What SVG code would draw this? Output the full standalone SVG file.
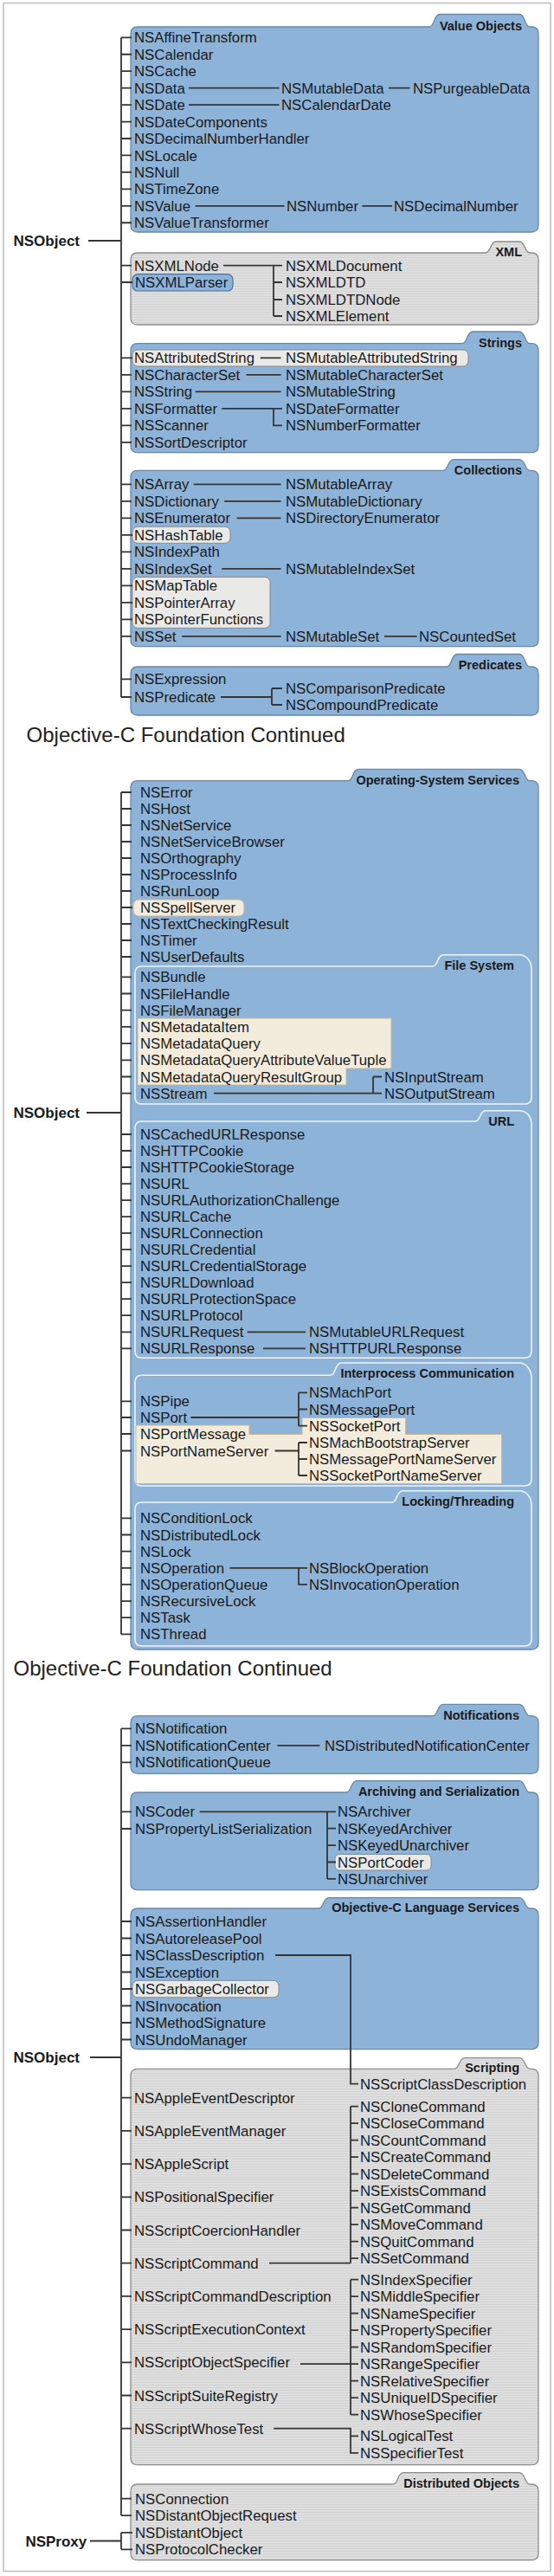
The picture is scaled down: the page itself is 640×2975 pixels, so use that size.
<svg xmlns="http://www.w3.org/2000/svg" width="640" height="2975" viewBox="0 0 640 2975">
<defs>
<pattern id="gs" width="6" height="3" patternUnits="userSpaceOnUse"><rect width="6" height="3" fill="#dedede"/><rect width="6" height="1" fill="#d3d3d3"/></pattern>
<style>
.n{font-family:"Liberation Sans",Arial,Helvetica,sans-serif;font-size:16.8px;fill:#1a1a1a}
.nb{font-family:"Liberation Sans",Arial,Helvetica,sans-serif;font-size:17px;font-weight:bold;fill:#1a1a1a}
.lb{font-family:"Liberation Sans",Arial,Helvetica,sans-serif;font-size:14.5px;font-weight:bold;fill:#1a1a1a;text-anchor:end}
.tt{font-family:"Liberation Sans",Arial,Helvetica,sans-serif;font-size:24px;fill:#222}
.ln{stroke:#353535;stroke-width:1.8;fill:none}
.blue{fill:#8db3d8;stroke:#6a87a8;stroke-width:1.3}
.gray{fill:url(#gs);stroke:#8c8c8c;stroke-width:1.3}
.sub{fill:#8db3d8;stroke:#eef4fa;stroke-width:1.6}
.hb{fill:#f3ecdc;stroke:#c4b898;stroke-width:1;stroke-linejoin:round}
.hg{fill:#e9e9e7;stroke:#8a8a8a;stroke-width:1}
.hbl{fill:#8db3d8;stroke:#4f7299;stroke-width:1.2}
</style>
</defs>
<rect x="0" y="0" width="640" height="2975" fill="#fff"/>
<rect x="4" y="3.5" width="632" height="2966" fill="#fff" stroke="#bdbdbd" stroke-width="1.5"/>

<text class="tt" x="30.6" y="856.5">Objective-C Foundation Continued</text>
<text class="tt" x="15.5" y="1935">Objective-C Foundation Continued</text>

<g id="root-nsobject-1"><text class="nb" x="15.5" y="284">NSObject</text></g>
<g id="root-nsobject-2"><text class="nb" x="15.5" y="1291">NSObject</text></g>
<g id="root-nsobject-3"><text class="nb" x="15.5" y="2382">NSObject</text></g>
<g id="root-nsproxy"><text class="nb" x="29.4" y="2940.5">NSProxy</text></g>

<g id="value-objects">
<path class="blue" d="M151,39 Q151,31 159,31 H496 C502,31 501,16.5 508,16.5 H600 C607,16.5 606,31 612,31 H614 Q622,31 622,39 V260 Q622,268 614,268 H159 Q151,268 151,260 Z"/>
<text class="lb" x="603" y="35">Value Objects</text>
<text class="n" x="155" y="49.3">NSAffineTransform</text>
<text class="n" x="155" y="68.8">NSCalendar</text>
<text class="n" x="155" y="88.2">NSCache</text>
<text class="n" x="155" y="107.7">NSData</text>
<text class="n" x="155" y="127.1">NSDate</text>
<text class="n" x="155" y="146.6">NSDateComponents</text>
<text class="n" x="155" y="166">NSDecimalNumberHandler</text>
<text class="n" x="155" y="185.5">NSLocale</text>
<text class="n" x="155" y="204.9">NSNull</text>
<text class="n" x="155" y="224.4">NSTimeZone</text>
<text class="n" x="155" y="243.8">NSValue</text>
<text class="n" x="155" y="263.3">NSValueTransformer</text>
<text class="n" x="325" y="107.7">NSMutableData</text>
<text class="n" x="477" y="107.7">NSPurgeableData</text>
<text class="n" x="325" y="127.1">NSCalendarDate</text>
<text class="n" x="331" y="243.8">NSNumber</text>
<text class="n" x="455" y="243.8">NSDecimalNumber</text>
</g>

<g id="xml">
<path class="gray" d="M151,300 Q151,292 159,292 H561 C567,292 566,279 573,279 H600 C607,279 606,292 612,292 H614 Q622,292 622,300 V367 Q622,375 614,375 H159 Q151,375 151,367 Z"/>
<text class="lb" x="603" y="296">XML</text>
<rect class="hbl" x="153" y="316.7" width="116" height="19.3" rx="6"/>
<text class="n" x="155" y="312.7">NSXMLNode</text>
<text class="n" x="156" y="332">NSXMLParser</text>
<text class="n" x="330" y="312.7">NSXMLDocument</text>
<text class="n" x="330" y="332">NSXMLDTD</text>
<text class="n" x="330" y="352">NSXMLDTDNode</text>
<text class="n" x="330" y="371">NSXMLElement</text>
</g>

<g id="strings">
<path class="blue" d="M151,404.7 Q151,396.7 159,396.7 H534 C540,396.7 539,383 546,383 H600 C607,383 606,396.7 612,396.7 H614 Q622,396.7 622,404.7 V514.7 Q622,522.7 614,522.7 H159 Q151,522.7 151,514.7 Z"/>
<text class="lb" x="603" y="400.5">Strings</text>
<rect class="hg" x="153" y="404" width="388" height="19" rx="6"/>
<text class="n" x="155" y="419.3">NSAttributedString</text>
<text class="n" x="155" y="438.8">NSCharacterSet</text>
<text class="n" x="155" y="458.3">NSString</text>
<text class="n" x="155" y="477.8">NSFormatter</text>
<text class="n" x="155" y="497.3">NSScanner</text>
<text class="n" x="155" y="516.8">NSSortDescriptor</text>
<text class="n" x="330" y="419.3">NSMutableAttributedString</text>
<text class="n" x="330" y="438.8">NSMutableCharacterSet</text>
<text class="n" x="330" y="458.3">NSMutableString</text>
<text class="n" x="330" y="477.8">NSDateFormatter</text>
<text class="n" x="330" y="497.3">NSNumberFormatter</text>
</g>

<g id="collections">
<path class="blue" d="M151,551.3 Q151,543.3 159,543.3 H512 C518,543.3 517,530.7 524,530.7 H600 C607,530.7 606,543.3 612,543.3 H614 Q622,543.3 622,551.3 V738.7 Q622,746.7 614,746.7 H159 Q151,746.7 151,738.7 Z"/>
<text class="lb" x="603" y="547.5">Collections</text>
<rect class="hg" x="153" y="608.3" width="113" height="19" rx="6"/>
<rect class="hg" x="153" y="666.5" width="159" height="58.8" rx="6"/>
<text class="n" x="155" y="565.3">NSArray</text>
<text class="n" x="155" y="584.8">NSDictionary</text>
<text class="n" x="155" y="604.3">NSEnumerator</text>
<text class="n" x="155" y="623.8">NSHashTable</text>
<text class="n" x="155" y="643.3">NSIndexPath</text>
<text class="n" x="155" y="662.8">NSIndexSet</text>
<text class="n" x="155" y="682.3">NSMapTable</text>
<text class="n" x="155" y="701.8">NSPointerArray</text>
<text class="n" x="155" y="721.3">NSPointerFunctions</text>
<text class="n" x="155" y="740.8">NSSet</text>
<text class="n" x="330" y="565.3">NSMutableArray</text>
<text class="n" x="330" y="584.8">NSMutableDictionary</text>
<text class="n" x="330" y="604.3">NSDirectoryEnumerator</text>
<text class="n" x="330" y="662.8">NSMutableIndexSet</text>
<text class="n" x="330" y="740.8">NSMutableSet</text>
<text class="n" x="484" y="740.8">NSCountedSet</text>
</g>

<g id="predicates">
<path class="blue" d="M151,778 Q151,770 159,770 H516 C522,770 521,755.5 528,755.5 H600 C607,755.5 606,770 612,770 H614 Q622,770 622,778 V818 Q622,826 614,826 H159 Q151,826 151,818 Z"/>
<text class="lb" x="603" y="773">Predicates</text>
<text class="n" x="155" y="790.3">NSExpression</text>
<text class="n" x="155" y="811">NSPredicate</text>
<text class="n" x="330" y="801">NSComparisonPredicate</text>
<text class="n" x="330" y="820">NSCompoundPredicate</text>
</g>

<g id="os-services">
<path class="blue" d="M151,909.7 Q151,901.7 159,901.7 H402 C408,901.7 407,888.3 414,888.3 H600 C607,888.3 606,901.7 612,901.7 H614 Q622,901.7 622,909.7 V1897 Q622,1905 614,1905 H159 Q151,1905 151,1897 Z"/>
<text class="lb" x="600" y="905.5">Operating-System Services</text>
<rect class="hb" x="154" y="1039" width="128" height="19" rx="6"/>
<text class="n" x="162" y="921">NSError</text>
<text class="n" x="162" y="940">NSHost</text>
<text class="n" x="162" y="959">NSNetService</text>
<text class="n" x="162" y="978">NSNetServiceBrowser</text>
<text class="n" x="162" y="997">NSOrthography</text>
<text class="n" x="162" y="1016">NSProcessInfo</text>
<text class="n" x="162" y="1035">NSRunLoop</text>
<text class="n" x="162" y="1054">NSSpellServer</text>
<text class="n" x="162" y="1073">NSTextCheckingResult</text>
<text class="n" x="162" y="1092">NSTimer</text>
<text class="n" x="162" y="1111">NSUserDefaults</text>
</g>

<g id="file-system">
<path class="sub" d="M156,1124 Q156,1116 164,1116 H500 C506,1116 505,1102.7 512,1102.7 H600 C608,1102.7 614,1110 614,1120 V1267 Q614,1275 606,1275 H164 Q156,1275 156,1267 Z"/>
<text class="lb" x="594" y="1119.5">File System</text>
<path class="hb" d="M159,1176 H452 V1234 H400 V1253 H159 Z"/>
<text class="n" x="162" y="1134.3">NSBundle</text>
<text class="n" x="162" y="1153.5">NSFileHandle</text>
<text class="n" x="162" y="1172.7">NSFileManager</text>
<text class="n" x="162" y="1191.9">NSMetadataItem</text>
<text class="n" x="162" y="1211.1">NSMetadataQuery</text>
<text class="n" x="162" y="1230.3">NSMetadataQueryAttributeValueTuple</text>
<text class="n" x="162" y="1249.5">NSMetadataQueryResultGroup</text>
<text class="n" x="162" y="1268.7">NSStream</text>
<text class="n" x="444" y="1249.5">NSInputStream</text>
<text class="n" x="444" y="1268.7">NSOutputStream</text>
</g>

<g id="url">
<path class="sub" d="M156,1303 Q156,1295 164,1295 H549 C555,1295 554,1282.7 561,1282.7 H600 C608,1282.7 614,1289 614,1299 V1560.3 Q614,1568.3 606,1568.3 H164 Q156,1568.3 156,1560.3 Z"/>
<text class="lb" x="594" y="1299.5">URL</text>
<text class="n" x="162" y="1316">NSCachedURLResponse</text>
<text class="n" x="162" y="1335">NSHTTPCookie</text>
<text class="n" x="162" y="1354">NSHTTPCookieStorage</text>
<text class="n" x="162" y="1373.1">NSURL</text>
<text class="n" x="162" y="1392.1">NSURLAuthorizationChallenge</text>
<text class="n" x="162" y="1411.1">NSURLCache</text>
<text class="n" x="162" y="1430.1">NSURLConnection</text>
<text class="n" x="162" y="1449.1">NSURLCredential</text>
<text class="n" x="162" y="1468.2">NSURLCredentialStorage</text>
<text class="n" x="162" y="1487.2">NSURLDownload</text>
<text class="n" x="162" y="1506.2">NSURLProtectionSpace</text>
<text class="n" x="162" y="1525.2">NSURLProtocol</text>
<text class="n" x="162" y="1544.3">NSURLRequest</text>
<text class="n" x="162" y="1563.3">NSURLResponse</text>
<text class="n" x="357" y="1544.3">NSMutableURLRequest</text>
<text class="n" x="357" y="1563.3">NSHTTPURLResponse</text>
</g>

<g id="interprocess">
<path class="sub" d="M156,1596.3 Q156,1588.3 164,1588.3 H382 C388,1588.3 387,1574 394,1574 H600 C608,1574 614,1582 614,1592 V1708 Q614,1716 606,1716 H164 Q156,1716 156,1708 Z"/>
<text class="lb" x="594" y="1591">Interprocess Communication</text>
<path class="hb" d="M157,1646 H288 V1656.5 H349 V1637.5 H468.6 V1656.5 H579.6 V1713.5 H157 Z"/>
<text class="n" x="162" y="1624.3">NSPipe</text>
<text class="n" x="162" y="1643">NSPort</text>
<text class="n" x="162" y="1662">NSPortMessage</text>
<text class="n" x="162" y="1681.5">NSPortNameServer</text>
<text class="n" x="357" y="1614.3">NSMachPort</text>
<text class="n" x="357" y="1633.5">NSMessagePort</text>
<text class="n" x="357" y="1652.7">NSSocketPort</text>
<text class="n" x="357" y="1672">NSMachBootstrapServer</text>
<text class="n" x="357" y="1691">NSMessagePortNameServer</text>
<text class="n" x="357" y="1710">NSSocketPortNameServer</text>
</g>

<g id="locking-threading">
<path class="sub" d="M156,1743 Q156,1735 164,1735 H453 C459,1735 458,1721.7 465,1721.7 H600 C608,1721.7 614,1729 614,1739 V1893 Q614,1901 606,1901 H164 Q156,1901 156,1893 Z"/>
<text class="lb" x="594" y="1738.5">Locking/Threading</text>
<text class="n" x="162" y="1759.3">NSConditionLock</text>
<text class="n" x="162" y="1778.5">NSDistributedLock</text>
<text class="n" x="162" y="1797.6">NSLock</text>
<text class="n" x="162" y="1816.8">NSOperation</text>
<text class="n" x="162" y="1835.9">NSOperationQueue</text>
<text class="n" x="162" y="1855.1">NSRecursiveLock</text>
<text class="n" x="162" y="1874.2">NSTask</text>
<text class="n" x="162" y="1893.4">NSThread</text>
<text class="n" x="357" y="1816.8">NSBlockOperation</text>
<text class="n" x="357" y="1835.9">NSInvocationOperation</text>
</g>

<g id="notifications">
<path class="blue" d="M151,1989.7 Q151,1981.7 159,1981.7 H500 C506,1981.7 505,1968.3 512,1968.3 H600 C607,1968.3 606,1981.7 612,1981.7 H614 Q622,1981.7 622,1989.7 V2040.3 Q622,2048.3 614,2048.3 H159 Q151,2048.3 151,2040.3 Z"/>
<text class="lb" x="600" y="1985.5">Notifications</text>
<text class="n" x="156" y="2002.3">NSNotification</text>
<text class="n" x="156" y="2021.8">NSNotificationCenter</text>
<text class="n" x="156" y="2041.3">NSNotificationQueue</text>
<text class="n" x="375" y="2021.8">NSDistributedNotificationCenter</text>
</g>

<g id="archiving">
<path class="blue" d="M151,2078 Q151,2070 159,2070 H400 C406,2070 405,2056.7 412,2056.7 H600 C607,2056.7 606,2070 612,2070 H614 Q622,2070 622,2078 V2174.7 Q622,2182.7 614,2182.7 H159 Q151,2182.7 151,2174.7 Z"/>
<text class="lb" x="600" y="2074">Archiving and Serialization</text>
<rect class="hg" x="387" y="2141.5" width="111" height="18.5" rx="5"/>
<text class="n" x="156" y="2098.3">NSCoder</text>
<text class="n" x="156" y="2118">NSPropertyListSerialization</text>
<text class="n" x="390" y="2098.3">NSArchiver</text>
<text class="n" x="390" y="2117.7">NSKeyedArchiver</text>
<text class="n" x="390" y="2137.1">NSKeyedUnarchiver</text>
<text class="n" x="390" y="2156.5">NSPortCoder</text>
<text class="n" x="390" y="2175.9">NSUnarchiver</text>
</g>

<g id="objc-language-services">
<path class="blue" d="M151,2212 Q151,2204 159,2204 H368 C374,2204 373,2191.7 380,2191.7 H600 C607,2191.7 606,2204 612,2204 H614 Q622,2204 622,2212 V2358.7 Q622,2366.7 614,2366.7 H159 Q151,2366.7 151,2358.7 Z"/>
<text class="lb" x="600" y="2208">Objective-C Language Services</text>
<rect class="hg" x="153" y="2287.3" width="169" height="19.5" rx="6"/>
<text class="n" x="156" y="2225">NSAssertionHandler</text>
<text class="n" x="156" y="2244.5">NSAutoreleasePool</text>
<text class="n" x="156" y="2264">NSClassDescription</text>
<text class="n" x="156" y="2283.5">NSException</text>
<text class="n" x="156" y="2303">NSGarbageCollector</text>
<text class="n" x="156" y="2322.5">NSInvocation</text>
<text class="n" x="156" y="2342">NSMethodSignature</text>
<text class="n" x="156" y="2361.5">NSUndoManager</text>
</g>

<g id="scripting">
<path class="gray" d="M151,2397.3 Q151,2389.3 159,2389.3 H525 C531,2389.3 530,2376.7 537,2376.7 H600 C607,2376.7 606,2389.3 612,2389.3 H614 Q622,2389.3 622,2397.3 V2838.7 Q622,2846.7 614,2846.7 H159 Q151,2846.7 151,2838.7 Z"/>
<text class="lb" x="600" y="2393">Scripting</text>
<text class="n" x="155" y="2428.7">NSAppleEventDescriptor</text>
<text class="n" x="155" y="2466.9">NSAppleEventManager</text>
<text class="n" x="155" y="2505.1">NSAppleScript</text>
<text class="n" x="155" y="2543.3">NSPositionalSpecifier</text>
<text class="n" x="155" y="2581.5">NSScriptCoercionHandler</text>
<text class="n" x="155" y="2619.7">NSScriptCommand</text>
<text class="n" x="155" y="2657.9">NSScriptCommandDescription</text>
<text class="n" x="155" y="2696.1">NSScriptExecutionContext</text>
<text class="n" x="155" y="2734.3">NSScriptObjectSpecifier</text>
<text class="n" x="155" y="2772.5">NSScriptSuiteRegistry</text>
<text class="n" x="155" y="2810.7">NSScriptWhoseTest</text>
<text class="n" x="416" y="2412.7">NSScriptClassDescription</text>
<text class="n" x="416" y="2438.7">NSCloneCommand</text>
<text class="n" x="416" y="2458.2">NSCloseCommand</text>
<text class="n" x="416" y="2477.7">NSCountCommand</text>
<text class="n" x="416" y="2497.2">NSCreateCommand</text>
<text class="n" x="416" y="2516.7">NSDeleteCommand</text>
<text class="n" x="416" y="2536.2">NSExistsCommand</text>
<text class="n" x="416" y="2555.7">NSGetCommand</text>
<text class="n" x="416" y="2575.2">NSMoveCommand</text>
<text class="n" x="416" y="2594.7">NSQuitCommand</text>
<text class="n" x="416" y="2614.2">NSSetCommand</text>
<text class="n" x="416" y="2638.7">NSIndexSpecifier</text>
<text class="n" x="416" y="2658.2">NSMiddleSpecifier</text>
<text class="n" x="416" y="2677.7">NSNameSpecifier</text>
<text class="n" x="416" y="2697.2">NSPropertySpecifier</text>
<text class="n" x="416" y="2716.7">NSRandomSpecifier</text>
<text class="n" x="416" y="2736.2">NSRangeSpecifier</text>
<text class="n" x="416" y="2755.7">NSRelativeSpecifier</text>
<text class="n" x="416" y="2775.2">NSUniqueIDSpecifier</text>
<text class="n" x="416" y="2794.7">NSWhoseSpecifier</text>
<text class="n" x="416" y="2819.3">NSLogicalTest</text>
<text class="n" x="416" y="2838.8">NSSpecifierTest</text>
</g>

<g id="distributed-objects">
<path class="gray" d="M151,2877 Q151,2869 159,2869 H454 C460,2869 459,2855.7 466,2855.7 H600 C607,2855.7 606,2869 612,2869 H614 Q622,2869 622,2877 V2948.7 Q622,2956.7 614,2956.7 H159 Q151,2956.7 151,2948.7 Z"/>
<text class="lb" x="600" y="2873">Distributed Objects</text>
<text class="n" x="156" y="2891.7">NSConnection</text>
<text class="n" x="156" y="2911.2">NSDistantObjectRequest</text>
<text class="n" x="156" y="2930.8">NSDistantObject</text>
<text class="n" x="156" y="2950.3">NSProtocolChecker</text>
</g>

<g id="connectors" class="ln">
<path d="M102,278 H140 M140,43.3 V805
M140,43.3 H152 M140,62.75 H152 M140,82.2 H152 M140,101.65 H152 M140,121.1 H152 M140,140.55 H152 M140,160 H152 M140,179.45 H152 M140,198.9 H152 M140,218.35 H152 M140,237.8 H152 M140,257.25 H152
M140,306.7 H152 M140,326 H153
M140,413.3 H153 M140,432.8 H152 M140,452.3 H152 M140,471.8 H152 M140,491.3 H152 M140,510.8 H152
M140,559.3 H152 M140,578.8 H152 M140,598.3 H152 M140,617.8 H153 M140,637.3 H152 M140,656.8 H152 M140,676.3 H153 M140,695.8 H153 M140,715.3 H153 M140,734.8 H152
M140,784.3 H152 M140,805 H152"/>
<path d="M218,101.65 H322.5 M449,101.65 H473.5 M218,121.1 H322.5 M225.7,237.8 H328.6 M418.4,237.8 H453"/>
<path d="M258,306.7 H326 M316,306.7 V365 M316,326 H326 M316,346 H326 M316,365 H326"/>
<path d="M300.8,413.3 H324.5 M284.5,432.8 H324.5 M225.7,452.3 H324.5 M256.3,471.8 H326 M316,471.8 V491.3 H326"/>
<path d="M223.7,559.3 H324.5 M259.2,578.8 H324.5 M273.5,598.3 H324.5 M256.3,656.8 H324.5 M210.2,734.8 H324.5 M444,734.8 H481.6"/>
<path d="M255,805 H314 M314,795 V814 M314,795 H326 M314,814 H326"/>

<path d="M100,1285 H140 M140,915 V1887.4
M140,915 H152 M140,934 H152 M140,953 H152 M140,972 H152 M140,991 H152 M140,1010 H152 M140,1029 H152 M140,1048 H153 M140,1067 H152 M140,1086 H152 M140,1105 H152
M140,1128.3 H152 M140,1147.5 H152 M140,1166.7 H152 M140,1185.9 H152 M140,1205.1 H152 M140,1224.3 H152 M140,1243.5 H152 M140,1262.7 H152
M140,1310 H152 M140,1329 H152 M140,1348 H152 M140,1367.1 H152 M140,1386.1 H152 M140,1405.1 H152 M140,1424.1 H152 M140,1443.1 H152 M140,1462.2 H152 M140,1481.2 H152 M140,1500.2 H152 M140,1519.2 H152 M140,1538.3 H152 M140,1557.3 H152
M140,1618.3 H152 M140,1637 H152 M140,1656 H152 M140,1675.5 H152
M140,1753.3 H152 M140,1772.5 H152 M140,1791.6 H152 M140,1810.8 H152 M140,1829.9 H152 M140,1849.1 H152 M140,1868.2 H152 M140,1887.4 H152"/>
<path d="M247,1262.7 H441 M431,1243.5 V1262.7 M431,1243.5 H441"/>
<path d="M285.7,1538.3 H353 M304,1557.3 H353"/>
<path d="M220.4,1637 H345 M345,1608.3 V1646.7 M345,1608.3 H355 M345,1627.5 H355 M345,1646.7 H355
M317.6,1675.5 H345 M345,1666 V1704 M345,1666 H355 M345,1685 H355 M345,1704 H355"/>
<path d="M265.3,1810.8 H355 M345,1810.8 V1829.9 H355"/>

<path d="M104,2376 H140 M140,1996.3 V2905.2
M140,1996.3 H152 M140,2015.8 H152 M140,2035.3 H152
M140,2092.3 H152 M140,2112 H152
M140,2219 H152 M140,2238.5 H152 M140,2258 H152 M140,2277.5 H152 M140,2297 H153 M140,2316.5 H152 M140,2336 H152 M140,2355.5 H152
M140,2422.7 H152 M140,2460.9 H152 M140,2499.1 H152 M140,2537.3 H152 M140,2575.5 H152 M140,2613.7 H152 M140,2651.9 H152 M140,2690.1 H152 M140,2728.3 H152 M140,2766.5 H152 M140,2804.7 H152
M140,2885.7 H152 M140,2905.2 H152"/>
<path d="M320.4,2015.8 H369.4"/>
<path d="M230.6,2092.3 H388 M378,2092.3 V2169.9 M378,2111.7 H388 M378,2131.1 H388 M378,2150.5 H388 M378,2169.9 H388"/>
<path d="M318,2258 H405 V2406.7 H414"/>
<path d="M311,2613.7 H405 M405,2432.7 V2613.7
M405,2432.7 H414 M405,2452.2 H414 M405,2471.7 H414 M405,2491.2 H414 M405,2510.7 H414 M405,2530.2 H414 M405,2549.7 H414 M405,2569.2 H414 M405,2588.7 H414 M405,2608.2 H414"/>
<path d="M347,2730.2 H414 M405,2632.7 V2788.7
M405,2632.7 H414 M405,2652.2 H414 M405,2671.7 H414 M405,2691.2 H414 M405,2710.7 H414 M405,2749.7 H414 M405,2769.2 H414 M405,2788.7 H414"/>
<path d="M316.3,2804.7 H405 V2832.8 H414 M405,2813.3 H414"/>
<path d="M104,2934.5 H140 M140,2924.8 V2944.3 M140,2924.8 H153 M140,2944.3 H153"/>
</g>
</svg>
